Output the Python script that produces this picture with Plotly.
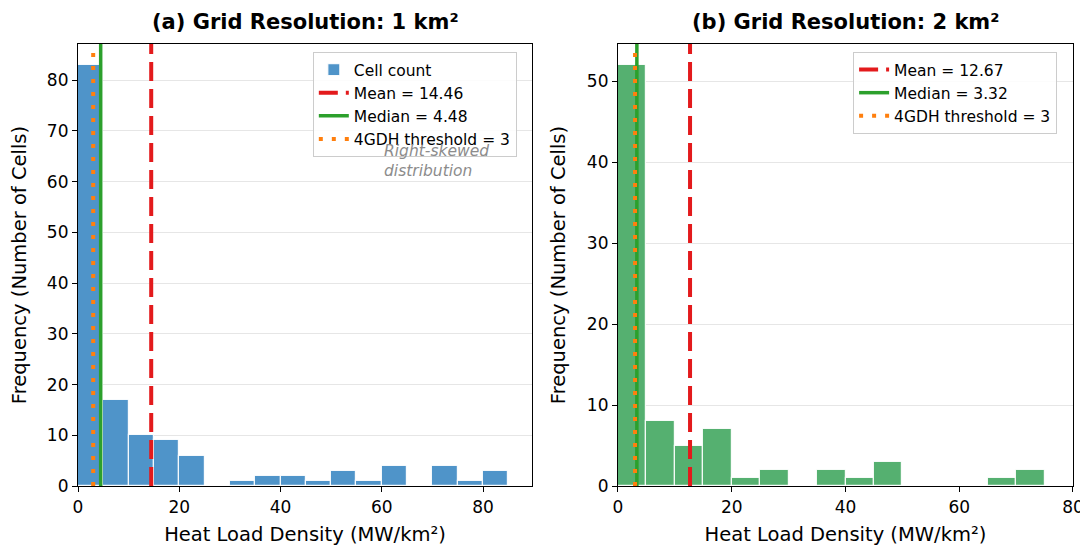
import plotly.graph_objects as go

# ---------------- data ----------------
bin_width = 5
counts_1km = [83, 17, 10, 9, 6, 0, 1, 2, 2, 1, 3, 1, 4, 0, 4, 1, 3]
counts_2km = [52, 8, 5, 7, 1, 2, 0, 2, 1, 3, 0, 0, 0, 1, 2]
mean_1km, median_1km = 14.46, 4.48
mean_2km, median_2km = 12.67, 3.32
threshold = 3
titles = ["(a) Grid Resolution: 1 km²", "(b) Grid Resolution: 2 km²"]
x_title = "Heat Load Density (MW/km²)"
y_title = "Frequency (Number of Cells)"
annotation_text = "Right-skewed<br>distribution"

FONT = "DejaVu Sans"
BLUE = "#4f94c9"
GREEN = "#55b070"
RED = "#e31a1c"
MGREEN = "#2ca02c"
ORANGE = "#ff7f0e"

fig = go.Figure()


def centers(counts):
    return [bin_width * (i + 0.5) for i in range(len(counts))]


def add_panel(counts, mean, median, xa, ya, legend, bar_color, bar_name, bar_legend):
    ymax = max(counts) * 1.05
    fig.add_trace(go.Bar(
        x=centers(counts), y=counts, width=bin_width,
        marker=dict(color=bar_color, line=dict(color="rgba(255,255,255,0.9)", width=1.2)),
        name=bar_name, showlegend=bar_legend, legend=legend,
        xaxis=xa, yaxis=ya,
    ))
    fig.add_trace(go.Scatter(
        x=[mean, mean], y=[0, ymax], mode="lines",
        line=dict(color=RED, width=4, dash="19px,8px"),
        name=f"Mean = {mean:.2f}", legend=legend, xaxis=xa, yaxis=ya,
    ))
    fig.add_trace(go.Scatter(
        x=[median, median], y=[0, ymax], mode="lines",
        line=dict(color=MGREEN, width=3.5),
        name=f"Median = {median:.2f}", legend=legend, xaxis=xa, yaxis=ya,
    ))
    fig.add_trace(go.Scatter(
        x=[threshold, threshold], y=[0, ymax], mode="lines",
        line=dict(color=ORANGE, width=4, dash="4px,9px"),
        name=f"4GDH threshold = {threshold}", legend=legend, xaxis=xa, yaxis=ya,
    ))
    return ymax


ymax1 = add_panel(counts_1km, mean_1km, median_1km, "x", "y", "legend", BLUE, "Cell count", True)
ymax2 = add_panel(counts_2km, mean_2km, median_2km, "x2", "y2", "legend2", GREEN, "Cell count", False)

axis_common = dict(
    showline=True, linecolor="black", linewidth=1.2, mirror=True,
    ticks="outside", ticklen=5, tickcolor="black",
    tickfont=dict(family=FONT, size=17, color="black"),
    zeroline=False, automargin=False,
)
title_font = dict(family=FONT, size=19.5, color="black")

fig.update_layout(
    xaxis=dict(domain=[0, 0.4563], range=[0, len(counts_1km) * bin_width * 1.055], anchor="y",
               tickvals=[0, 20, 40, 60, 80], showgrid=False,
               title=dict(text=x_title, font=title_font, standoff=20),
               **axis_common),
    yaxis=dict(domain=[0, 1], range=[0, ymax1], anchor="x", dtick=10,
               showgrid=True, gridcolor="#e6e6e6", gridwidth=1,
               title=dict(text=y_title, font=title_font, standoff=16),
               **axis_common),
    xaxis2=dict(domain=[0.5427, 1], range=[0, 80], anchor="y2",
                tickvals=[0, 20, 40, 60, 80], showgrid=False,
                title=dict(text=x_title, font=title_font, standoff=20),
                **axis_common),
    yaxis2=dict(domain=[0, 1], range=[0, ymax2], anchor="x2", dtick=10,
                showgrid=True, gridcolor="#e6e6e6", gridwidth=1,
                title=dict(text=y_title, font=title_font, standoff=16),
                **axis_common),
    legend=dict(x=0.236, y=0.982, xanchor="left", yanchor="top",
                bgcolor="rgba(255,255,255,0.85)", bordercolor="#cccccc", borderwidth=1,
                font=dict(family=FONT, size=15.5, color="black")),
    legend2=dict(x=0.779, y=0.982, xanchor="left", yanchor="top",
                 bgcolor="rgba(255,255,255,0.85)", bordercolor="#cccccc", borderwidth=1,
                 font=dict(family=FONT, size=15.5, color="black")),
    width=1080, height=538,
    margin=dict(l=70, r=15, t=36, b=60, autoexpand=False),
    plot_bgcolor="white", paper_bgcolor="white",
    bargap=0,
    font=dict(family=FONT, color="black"),
)

fig.add_annotation(xref="x domain", yref="paper", x=0.5, y=1, yanchor="middle", yshift=22,
                   text=f"<b>{titles[0]}</b>", showarrow=False,
                   font=dict(family=FONT, size=21, color="black"))
fig.add_annotation(xref="x2 domain", yref="paper", x=0.5, y=1, yanchor="middle", yshift=22,
                   text=f"<b>{titles[1]}</b>", showarrow=False,
                   font=dict(family=FONT, size=21, color="black"))
fig.add_annotation(xref="x", yref="y", x=60, y=64, xanchor="left", yanchor="middle", align="left",
                   text=f"<i>{annotation_text}</i>", showarrow=False,
                   font=dict(family=FONT, size=15.5, color="#8c8c8c"))

fig.write_html("out.html")
